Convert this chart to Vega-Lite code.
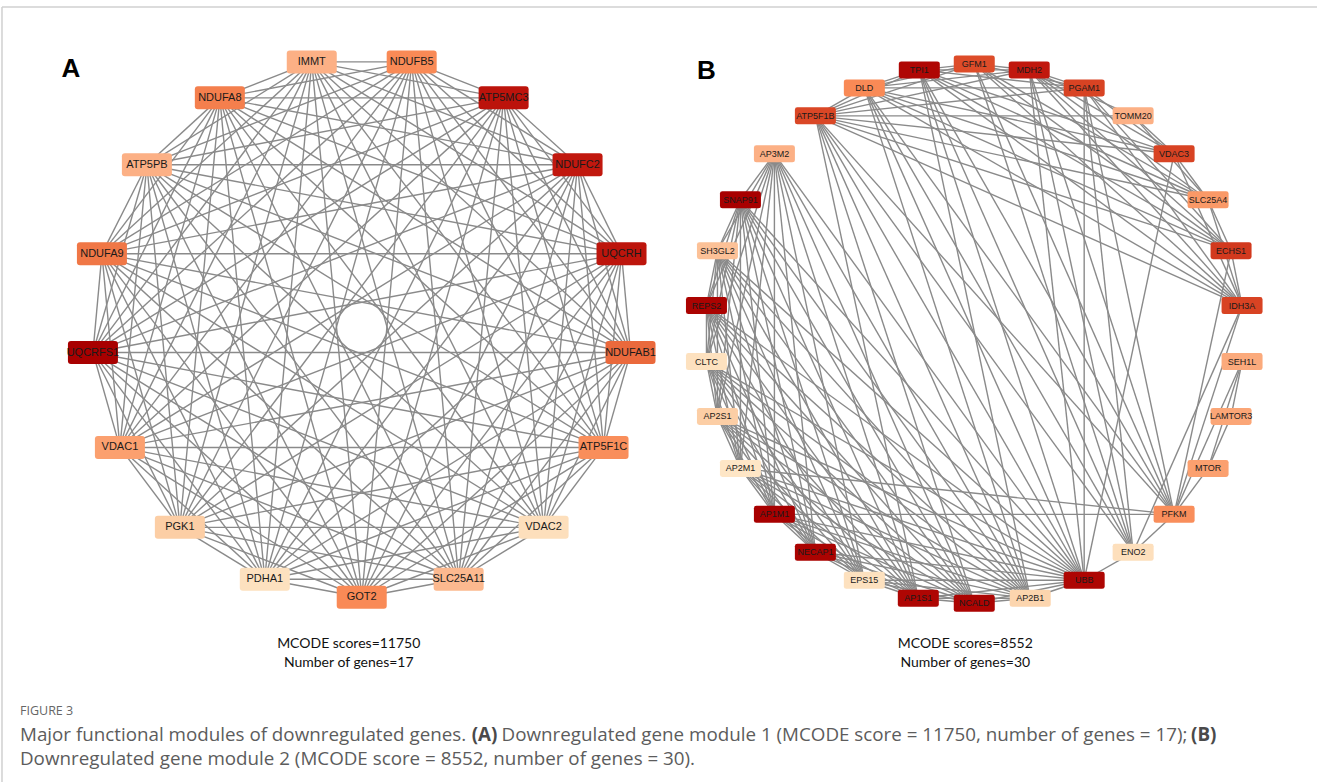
{
  "$schema": "https://vega.github.io/schema/vega-lite/v6.json",
  "width": 1318,
  "height": 783,
  "autosize": {"type": "fit", "contains": "padding"},
  "padding": 0,
  "background": "white",
  "config": {"view": {"stroke": null}},
  "datasets": {
    "nodes": [
      {"g": "GOT2", "p": "A", "x": 362, "y": 598, "v": 0.40, "e": [1,2,3,4,5,6,7,8,9,10,11,12,13,14,15,16]},
      {"g": "SLC25A11", "p": "A", "x": 459, "y": 580, "v": 0.18, "e": [1,102,103,104,105,106,107,108,109,110,111,112,113,114,115,116]},
      {"g": "VDAC2", "p": "A", "x": 544, "y": 528, "v": 0.03, "e": [2,102,203,204,205,206,207,208,209,210,211,212,213,214,215,216]},
      {"g": "ATP5F1C", "p": "A", "x": 604, "y": 448, "v": 0.38, "e": [3,103,203,304,305,306,307,308,309,310,311,312,313,314,315,316]},
      {"g": "NDUFAB1", "p": "A", "x": 631, "y": 353, "v": 0.52, "e": [4,104,204,304,405,406,407,408,409,410,411,412,413,414,415,416]},
      {"g": "UQCRH", "p": "A", "x": 622, "y": 254, "v": 0.85, "e": [5,105,205,305,405,506,507,508,509,510,511,512,513,514,515,516]},
      {"g": "NDUFC2", "p": "A", "x": 578, "y": 165, "v": 0.82, "e": [6,106,206,306,406,506,607,608,609,610,611,612,613,614,615,616]},
      {"g": "ATP5MC3", "p": "A", "x": 504, "y": 98, "v": 0.86, "e": [7,107,207,307,407,507,607,708,709,710,711,712,713,714,715,716]},
      {"g": "NDUFB5", "p": "A", "x": 412, "y": 62, "v": 0.40, "e": [8,108,208,308,408,508,608,708,809,810,811,812,813,814,815,816]},
      {"g": "IMMT", "p": "A", "x": 312, "y": 62, "v": 0.22, "e": [9,109,209,309,409,509,609,709,809,910,911,912,913,914,915,916]},
      {"g": "NDUFA8", "p": "A", "x": 220, "y": 98, "v": 0.44, "e": [10,110,210,310,410,510,610,710,810,910,1011,1012,1013,1014,1015,1016]},
      {"g": "ATP5PB", "p": "A", "x": 147, "y": 165, "v": 0.22, "e": [11,111,211,311,411,511,611,711,811,911,1011,1112,1113,1114,1115,1116]},
      {"g": "NDUFA9", "p": "A", "x": 102, "y": 254, "v": 0.47, "e": [12,112,212,312,412,512,612,712,812,912,1012,1112,1213,1214,1215,1216]},
      {"g": "UQCRFS1", "p": "A", "x": 93, "y": 353, "v": 1.0, "e": [13,113,213,313,413,513,613,713,813,913,1013,1113,1213,1314,1315,1316]},
      {"g": "VDAC1", "p": "A", "x": 120, "y": 448, "v": 0.30, "e": [14,114,214,314,414,514,614,714,814,914,1014,1114,1214,1314,1415,1416]},
      {"g": "PGK1", "p": "A", "x": 180, "y": 528, "v": 0.10, "e": [15,115,215,315,415,515,615,715,815,915,1015,1115,1215,1315,1415,1516]},
      {"g": "PDHA1", "p": "A", "x": 265, "y": 580, "v": 0.02, "e": [16,116,216,316,416,516,616,716,816,916,1016,1116,1216,1316,1416,1516]},
      {"g": "AP3M2", "p": "B", "x": 775, "y": 154, "v": 0.22, "e": [5001,5002,5003,5004,5005,5006,5007,5008,5009,5010,5011,5012,5013]},
      {"g": "SNAP91", "p": "B", "x": 741, "y": 200, "v": 1.0, "e": [5001,5102,5103,5104,5105,5106,5107,5108,5109,5110,5111,5112,5113]},
      {"g": "SH3GL2", "p": "B", "x": 718, "y": 251, "v": 0.15, "e": [5002,5102,5203,5204,5205,5206,5207,5208,5209,5210,5211,5212,5213]},
      {"g": "REPS2", "p": "B", "x": 707, "y": 306, "v": 0.98, "e": [5003,5103,5203,5304,5305,5306,5307,5308,5309,5310,5311,5312,5313]},
      {"g": "CLTC", "p": "B", "x": 707, "y": 362, "v": 0.02, "e": [5004,5104,5204,5304,5405,5406,5407,5408,5409,5410,5411,5412,5413]},
      {"g": "AP2S1", "p": "B", "x": 718, "y": 417, "v": 0.10, "e": [5005,5105,5205,5305,5405,5506,5507,5508,5509,5510,5511,5512,5513]},
      {"g": "AP2M1", "p": "B", "x": 741, "y": 469, "v": 0.0, "e": [5006,5106,5206,5306,5406,5506,5607,5608,5609,5610,5611,5612,5613,5626]},
      {"g": "AP1M1", "p": "B", "x": 775, "y": 515, "v": 1.0, "e": [5007,5107,5207,5307,5407,5507,5607,5708,5709,5710,5711,5712,5713,5726]},
      {"g": "NECAP1", "p": "B", "x": 816, "y": 553, "v": 0.98, "e": [5008,5108,5208,5308,5408,5508,5608,5708,5809,5810,5811,5812,5813]},
      {"g": "EPS15", "p": "B", "x": 865, "y": 581, "v": 0.02, "e": [5009,5109,5209,5309,5409,5509,5609,5709,5809,5910,5911,5912,5913]},
      {"g": "AP1S1", "p": "B", "x": 919, "y": 599, "v": 0.96, "e": [5010,5110,5210,5310,5410,5510,5610,5710,5810,5910,6011,6012,6013,6019]},
      {"g": "NCALD", "p": "B", "x": 975, "y": 604, "v": 0.97, "e": [5011,5111,5211,5311,5411,5511,5611,5711,5811,5911,6011,6112,6113,6119]},
      {"g": "AP2B1", "p": "B", "x": 1031, "y": 599, "v": 0.07, "e": [5012,5112,5212,5312,5412,5512,5612,5712,5812,5912,6012,6112,6213,6214,6217,6219]},
      {"g": "UBB", "p": "B", "x": 1085, "y": 581, "v": 0.96, "e": [5013,5113,5213,5313,5413,5513,5613,5713,5813,5913,6013,6113,6213,6314,6316,6317,6318,6319,6321,6325]},
      {"g": "TPI1", "p": "B", "x": 920, "y": 70, "v": 0.95, "e": [6214,6314,6415,6416,6417,6418,6419,6421,6422,6423,6424,6425,6426]},
      {"g": "GFM1", "p": "B", "x": 975, "y": 64, "v": 0.62, "e": [6415,6516,6517,6518,6519,6522,6523,6524,6525,6526]},
      {"g": "MDH2", "p": "B", "x": 1030, "y": 70, "v": 0.82, "e": [6316,6416,6516,6617,6618,6619,6620,6621,6622,6623,6624,6625,6626]},
      {"g": "DLD", "p": "B", "x": 865, "y": 88, "v": 0.40, "e": [6217,6317,6417,6517,6617,6718,6719,6721,6722,6723,6724,6725,6726]},
      {"g": "PGAM1", "p": "B", "x": 1085, "y": 88, "v": 0.66, "e": [6318,6418,6518,6618,6718,6819,6821,6823,6824,6825,6826]},
      {"g": "ATP5F1B", "p": "B", "x": 816, "y": 116, "v": 0.64, "e": [6019,6119,6219,6319,6419,6519,6619,6719,6819,6920,6921,6922,6923,6924,6925,6926]},
      {"g": "TOMM20", "p": "B", "x": 1134, "y": 116, "v": 0.22, "e": [6620,6920,7021,7022]},
      {"g": "VDAC3", "p": "B", "x": 1175, "y": 154, "v": 0.66, "e": [6321,6421,6621,6721,6821,6921,7021,7122,7124]},
      {"g": "SLC25A4", "p": "B", "x": 1209, "y": 200, "v": 0.33, "e": [6422,6522,6622,6722,6922,7022,7122,7223,7224]},
      {"g": "ECHS1", "p": "B", "x": 1232, "y": 251, "v": 0.70, "e": [6423,6523,6623,6723,6823,6923,7223,7324,7326]},
      {"g": "IDH3A", "p": "B", "x": 1243, "y": 306, "v": 0.66, "e": [6424,6524,6624,6724,6824,6924,7124,7224,7324,7425,7426]},
      {"g": "ENO2", "p": "B", "x": 1134, "y": 553, "v": 0.03, "e": [6325,6425,6525,6625,6725,6825,6925,7425,7526]},
      {"g": "PFKM", "p": "B", "x": 1175, "y": 515, "v": 0.38, "e": [5626,5726,6426,6526,6626,6726,6826,6926,7326,7426,7526,7627,7629]},
      {"g": "SEH1L", "p": "B", "x": 1243, "y": 362, "v": 0.25, "e": [7627,7728,7729]},
      {"g": "LAMTOR3", "p": "B", "x": 1232, "y": 417, "v": 0.27, "e": [7728,7829]},
      {"g": "MTOR", "p": "B", "x": 1209, "y": 469, "v": 0.30, "e": [7629,7729,7829]}
    ],
    "notes": [
      {"k": "letter", "x": 71, "y": 69, "txt": "A"},
      {"k": "letter", "x": 707, "y": 71, "txt": "B"},
      {"k": "mcode", "x": 349, "y": 645, "txt": "MCODE scores=11750"},
      {"k": "mcode", "x": 349, "y": 664, "txt": "Number of genes=17"},
      {"k": "mcode", "x": 966, "y": 645, "txt": "MCODE scores=8552"},
      {"k": "mcode", "x": 966, "y": 664, "txt": "Number of genes=30"},
      {"k": "fig", "x": 20, "y": 712, "txt": "FIGURE 3"},
      {"k": "cap", "x": 20, "y": 736, "txt": "Major functional modules of downregulated genes."},
      {"k": "bold", "x": 472, "y": 736, "txt": "(A)"},
      {"k": "cap", "x": 502, "y": 736, "txt": "Downregulated gene module 1 (MCODE score = 11750, number of genes = 17);"},
      {"k": "bold", "x": 1192, "y": 736, "txt": "(B)"},
      {"k": "cap", "x": 20, "y": 760, "txt": "Downregulated gene module 2 (MCODE score = 8552, number of genes = 30)."}
    ],
    "frame": [
      {"x": 2, "y": 7, "x2": 1318, "y2": 7},
      {"x": 2, "y": 7, "x2": 2, "y2": 783}
    ]
  },
  "layer": [
    {
      "data": {"name": "frame"},
      "mark": {"type": "rule", "color": "#d0d0d0", "strokeWidth": 1.5},
      "encoding": {
        "x": {"field": "x", "type": "quantitative", "scale": {"domain": [0, 1318], "zero": false, "nice": false}, "axis": null},
        "y": {"field": "y", "type": "quantitative", "scale": {"domain": [783, 0], "zero": false, "nice": false}, "axis": null},
        "x2": {"field": "x2"},
        "y2": {"field": "y2"}
      }
    },
    {
      "data": {"name": "nodes"},
      "transform": [{"flatten": ["e"]}],
      "mark": {"type": "line", "color": "#8a8a8a", "strokeWidth": 1.4},
      "encoding": {
        "x": {"field": "x", "type": "quantitative"},
        "y": {"field": "y", "type": "quantitative"},
        "detail": {"field": "e", "type": "nominal"}
      }
    },
    {
      "data": {"name": "nodes"},
      "transform": [{"filter": {"field": "p", "equal": "A"}}],
      "mark": {"type": "point", "shape": "M-0.88,-0.46H0.88Q1,-0.46 1,-0.34V0.34Q1,0.46 0.88,0.46H-0.88Q-1,0.46 -1,0.34V-0.34Q-1,-0.46 -0.88,-0.46Z", "size": 2500, "filled": true, "opacity": 1, "strokeWidth": 0},
      "encoding": {
        "x": {"field": "x", "type": "quantitative"},
        "y": {"field": "y", "type": "quantitative"},
        "color": {"field": "v", "type": "quantitative", "scale": {"domain": [0, 1], "range": ["#fee6c6", "#fcb48a", "#f98a56", "#e0502c", "#c41a10", "#a80000"]}, "legend": null}
      }
    },
    {
      "data": {"name": "nodes"},
      "transform": [{"filter": {"field": "p", "equal": "B"}}],
      "mark": {"type": "point", "shape": "M-0.88,-0.415H0.88Q1,-0.415 1,-0.3V0.3Q1,0.415 0.88,0.415H-0.88Q-1,0.415 -1,0.3V-0.3Q-1,-0.415 -0.88,-0.415Z", "size": 1681, "filled": true, "opacity": 1, "strokeWidth": 0},
      "encoding": {
        "x": {"field": "x", "type": "quantitative"},
        "y": {"field": "y", "type": "quantitative"},
        "color": {"field": "v", "type": "quantitative", "legend": null}
      }
    },
    {
      "data": {"name": "nodes"},
      "transform": [{"filter": {"field": "p", "equal": "A"}}],
      "mark": {"type": "text", "font": "Liberation Sans", "fontSize": 11, "color": "#1a1a1a", "baseline": "middle", "align": "center"},
      "encoding": {
        "x": {"field": "x", "type": "quantitative"},
        "y": {"field": "y", "type": "quantitative"},
        "text": {"field": "g"}
      }
    },
    {
      "data": {"name": "nodes"},
      "transform": [{"filter": {"field": "p", "equal": "B"}}],
      "mark": {"type": "text", "font": "Liberation Sans", "fontSize": 9, "color": "#1a1a1a", "baseline": "middle", "align": "center"},
      "encoding": {
        "x": {"field": "x", "type": "quantitative"},
        "y": {"field": "y", "type": "quantitative"},
        "text": {"field": "g"}
      }
    },
    {
      "data": {"name": "notes"},
      "transform": [{"filter": {"field": "k", "equal": "letter"}}],
      "mark": {"type": "text", "font": "Liberation Sans", "fontSize": 26, "fontWeight": "bold", "color": "#000000", "baseline": "middle", "align": "center"},
      "encoding": {
        "x": {"field": "x", "type": "quantitative"},
        "y": {"field": "y", "type": "quantitative"},
        "text": {"field": "txt"}
      }
    },
    {
      "data": {"name": "notes"},
      "transform": [{"filter": {"field": "k", "equal": "mcode"}}],
      "mark": {"type": "text", "font": "Lato", "fontSize": 14, "color": "#111111", "baseline": "middle", "align": "center"},
      "encoding": {
        "x": {"field": "x", "type": "quantitative"},
        "y": {"field": "y", "type": "quantitative"},
        "text": {"field": "txt"}
      }
    },
    {
      "data": {"name": "notes"},
      "transform": [{"filter": {"field": "k", "equal": "fig"}}],
      "mark": {"type": "text", "font": "Open Sans", "fontSize": 12.5, "color": "#666666", "baseline": "middle", "align": "left"},
      "encoding": {
        "x": {"field": "x", "type": "quantitative"},
        "y": {"field": "y", "type": "quantitative"},
        "text": {"field": "txt"}
      }
    },
    {
      "data": {"name": "notes"},
      "transform": [{"filter": {"field": "k", "equal": "cap"}}],
      "mark": {"type": "text", "font": "Open Sans", "fontSize": 18.8, "color": "#5c5c5c", "baseline": "middle", "align": "left"},
      "encoding": {
        "x": {"field": "x", "type": "quantitative"},
        "y": {"field": "y", "type": "quantitative"},
        "text": {"field": "txt"}
      }
    },
    {
      "data": {"name": "notes"},
      "transform": [{"filter": {"field": "k", "equal": "bold"}}],
      "mark": {"type": "text", "font": "Open Sans", "fontSize": 18.8, "fontWeight": "bold", "color": "#4a4a4a", "baseline": "middle", "align": "left"},
      "encoding": {
        "x": {"field": "x", "type": "quantitative"},
        "y": {"field": "y", "type": "quantitative"},
        "text": {"field": "txt"}
      }
    }
  ]
}
